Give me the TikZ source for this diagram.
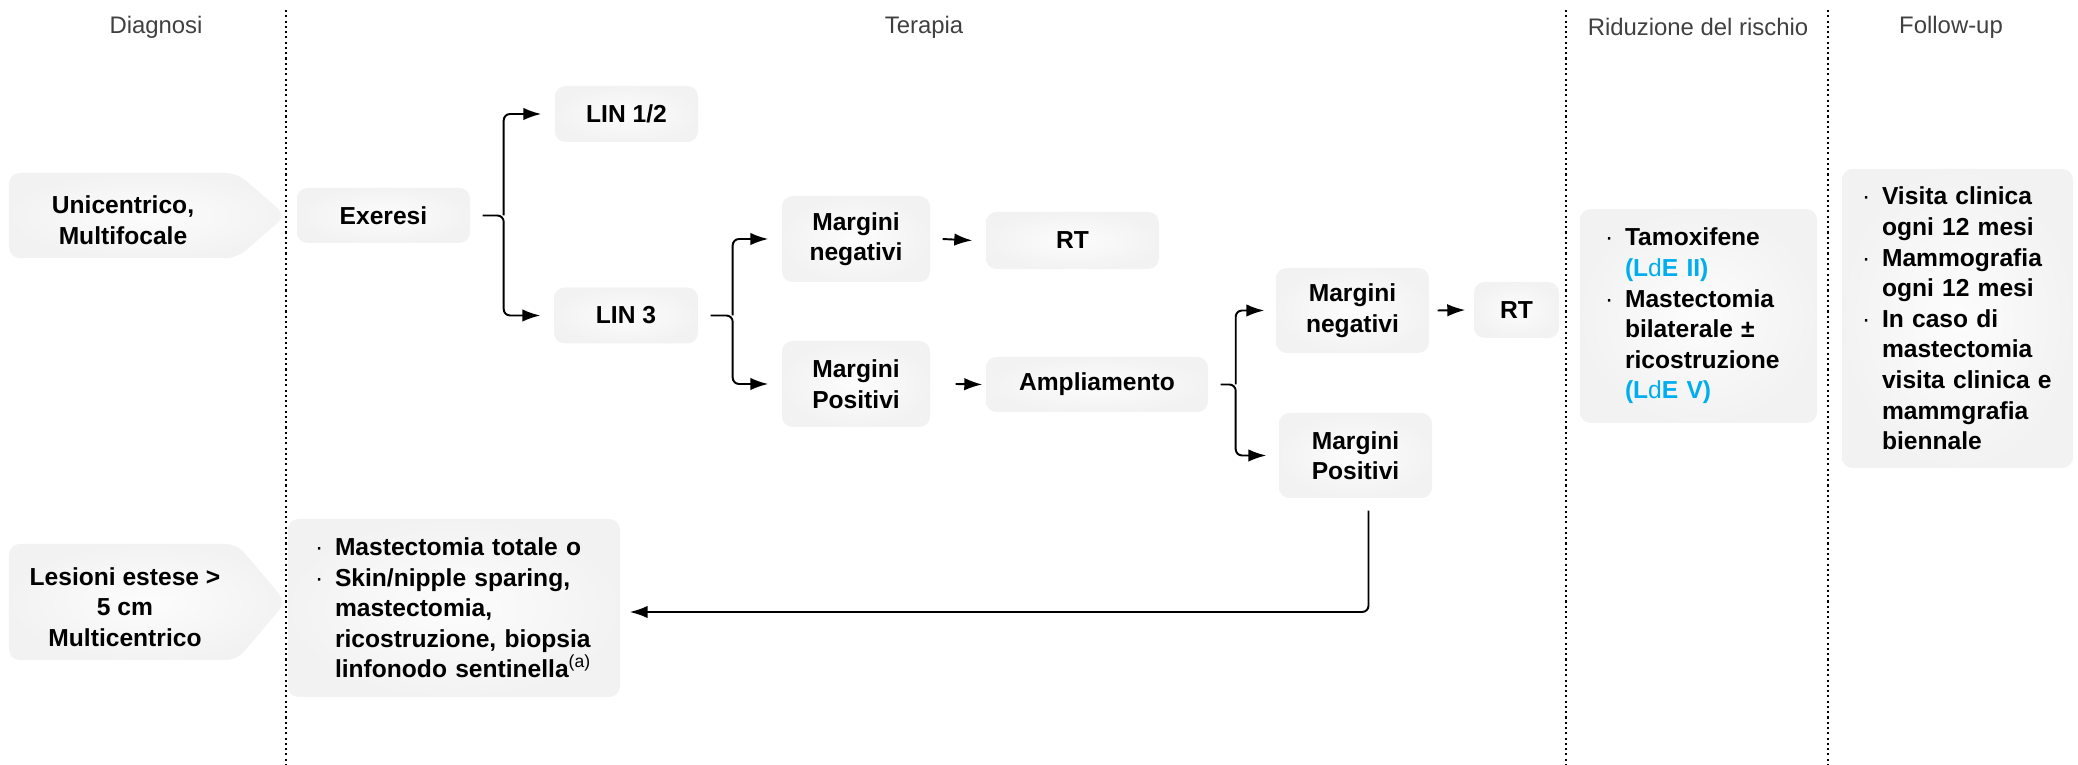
\documentclass[tikz,border=0pt]{standalone}
\usepackage{fontspec}
\setmainfont{Liberation Sans}
\usetikzlibrary{arrows.meta}
\definecolor{lde}{RGB}{0,174,239}
\newcommand{\itm}{\makebox[0.2cm][l]{\mdseries\textperiodcentered}}
\newcommand{\cont}{\hspace*{0.2cm}}

\begin{document}
\begin{tikzpicture}[>={Latex[length=1.8mm,width=1.25mm]}]

      \tikzset{fl/.style={shading=radial, inner color=gray!2, outer color=gray!10},
               bx/.style={shade, fl, rounded corners=3pt, inner sep=0pt, align=center, font=\bfseries\fontsize{7}{8.7}\selectfont},
               lst/.style={bx, align=left},
               lbl/.style={align=center, font=\bfseries\fontsize{7}{8.7}\selectfont},
               hdr/.style={text=black!75, font=\fontsize{6.8}{8}\selectfont},
               conn/.style={line width=0.55pt, rounded corners=1.8pt}}
      \useasboundingbox (0,0) rectangle (20.78,7.65);
%% Columns
      \foreach \x in {2.86,15.66,18.28}
        \draw[line width=0.6pt, dash pattern=on 0.6pt off 0.9pt] (\x,7.55) -- (\x,0);
      \node[hdr] (hdiag) at (1.56,7.38) {Diagnosi};
      \node[hdr] (hter) at (9.24,7.38) {Terapia};
      \node[hdr] (hrid) at (16.98,7.38) {Riduzione del rischio};
      \node[hdr] (hfol) at (19.51,7.38) {Follow-up};
%% Diagnosi
      \shade[fl, rounded corners=3pt] (0.09,5.07) -- (0.09,5.92) -- (2.37,5.92) -- (2.86,5.495) -- (2.37,5.07) -- cycle;
      \shade[fl, rounded corners=3pt] (0.09,1.05) -- (0.09,2.21) -- (2.37,2.21) -- (2.86,1.63) -- (2.37,1.05) -- cycle;
      \node[lbl] (uni) at (1.23,5.45) {Unicentrico,\\Multifocale};
      \node[lbl] (les) at (1.25,1.58) {Lesioni estese >\\5 cm\\Multicentrico};
%% Terapia
      \node[bx, minimum width=1.73cm, minimum height=0.55cm] (exe) at (3.835,5.495) {Exeresi};
      \node[bx, minimum width=1.43cm, minimum height=0.56cm] (lin12) at (6.265,6.51) {LIN 1/2};
      \node[bx, minimum width=1.44cm, minimum height=0.56cm] (lin3) at (6.26,4.495) {LIN 3};
      \node[bx, minimum width=1.48cm, minimum height=0.86cm] (neg1) at (8.56,5.26) {Margini\\negativi};
      \node[bx, minimum width=1.73cm, minimum height=0.57cm] (rt1) at (10.725,5.245) {RT};
      \node[bx, minimum width=1.48cm, minimum height=0.86cm] (pos1) at (8.56,3.81) {Margini\\Positivi};
      \node[bx, minimum width=2.22cm, minimum height=0.55cm] (amp) at (10.97,3.805) {Ampliamento};
      \node[bx, minimum width=1.53cm, minimum height=0.85cm] (neg2) at (13.525,4.545) {Margini\\negativi};
      \node[bx, minimum width=0.85cm, minimum height=0.56cm] (rt2) at (15.165,4.55) {RT};
      \node[bx, minimum width=1.53cm, minimum height=0.85cm] (pos2) at (13.555,3.095) {Margini\\Positivi};
      \node[lst, text width=2.78cm, inner xsep=0.27cm, minimum height=1.78cm] (mast) at (4.54,1.57)
        {\itm Mastectomia totale o\\
         \itm Skin/nipple sparing,\\
         \cont mastectomia,\\
         \cont ricostruzione, biopsia\\
         \cont linfonodo sentinella\textsuperscript{\mdseries(a)}};
%% Riduzione, follow-up
      \node[lst, text width=1.87cm, inner xsep=0.25cm, minimum height=2.14cm] (tam) at (16.985,4.49)
        {\itm Tamoxifene\\
         \cont\textcolor{lde}{(L{\mdseries d}E II)}\\
         \itm Mastectomia\\
         \cont bilaterale ±\\
         \cont ricostruzione\\
         \cont\textcolor{lde}{(L{\mdseries d}E V)}};
      \node[lst, text width=1.91cm, inner xsep=0.2cm, minimum height=2.99cm] (fol) at (19.575,4.465)
        {\itm Visita clinica\\
         \cont ogni 12 mesi\\
         \itm Mammografia\\
         \cont ogni 12 mesi\\
         \itm In caso di\\
         \cont mastectomia\\
         \cont visita clinica e\\
         \cont mammgrafia\\
         \cont biennale};
%Arrows
      \draw[conn, ->] ([xshift=0.12cm]exe.east) -- ++(0.21,0) |- ([xshift=-0.13cm]lin3.west);
      \draw[conn, ->] ([xshift=0.33cm]exe.east) |- ([xshift=-0.13cm]lin12.west);
      \draw[conn, ->] ([xshift=0.12cm]lin3.east) -- ++(0.22,0) |- ([xshift=-0.13cm]pos1.west);
      \draw[conn, ->] ([xshift=0.34cm]lin3.east) |- ([xshift=-0.13cm]neg1.west);
      \draw[conn, ->] ([xshift=0.12cm]neg1.east) -- ([xshift=-0.13cm]rt1.west);
      \draw[conn, ->] ([xshift=0.25cm]pos1.east) -- ([xshift=-0.03cm]amp.west);
      \draw[conn, ->] ([xshift=0.12cm]amp.east) -- ++(0.15,0) |- ([xshift=-0.12cm]pos2.west);
      \draw[conn, ->] ([xshift=0.27cm]amp.east) |- ([xshift=-0.11cm]neg2.west);
      \draw[conn, ->] ([xshift=0.08cm]neg2.east) -- ([xshift=-0.08cm]rt2.west);
      \draw[conn, ->] ([xshift=0.13cm, yshift=-0.12cm]pos2.south) |- ([xshift=0.09cm, yshift=-0.04cm]mast.east);

\end{tikzpicture}
\end{document}
